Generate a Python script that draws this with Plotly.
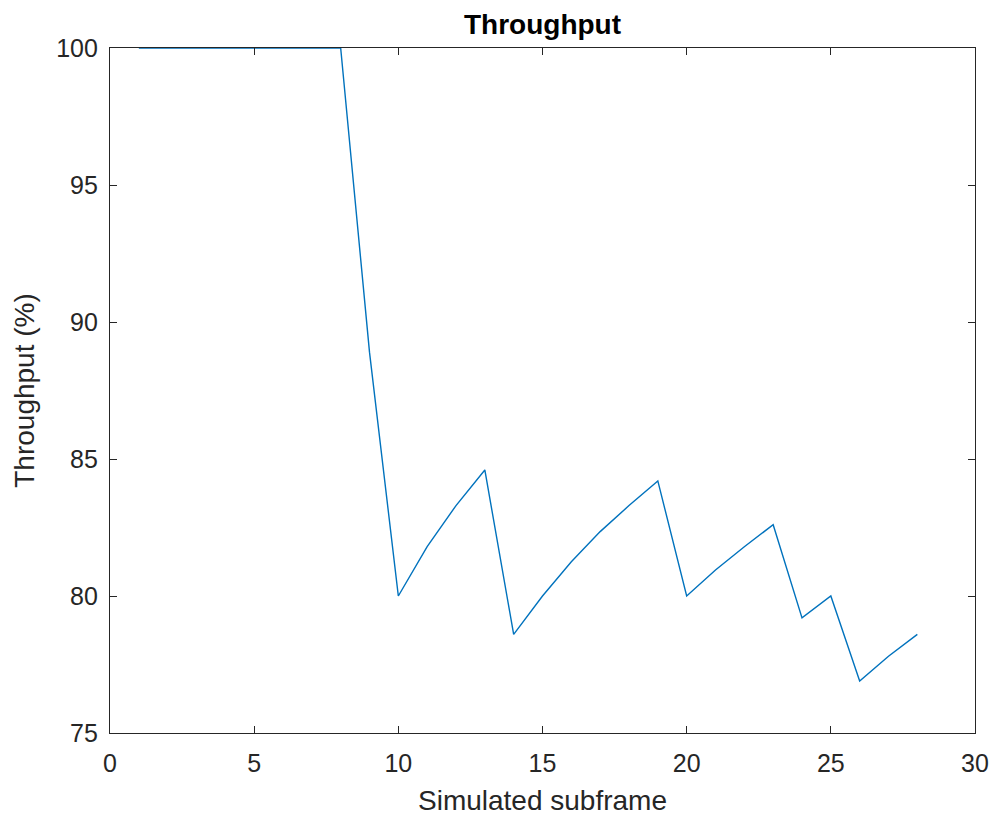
import plotly.graph_objects as go

subframes = list(range(1, 29))
throughput = [100, 100, 100, 100, 100, 100, 100, 100,
              88.9, 80.0, 81.8, 83.3, 84.6, 78.6, 80.0, 81.25,
              82.35, 83.3, 84.2, 80.0, 80.95, 81.8, 82.6, 79.2,
              80.0, 76.9, 77.8, 78.6]

x_ticks = [0, 5, 10, 15, 20, 25, 30]
y_ticks = [75, 80, 85, 90, 95, 100]

axis_color = "#262626"
font_family = "Liberation Sans, Arial, Helvetica, sans-serif"

W, H = 995, 821

fig = go.Figure()
fig.add_trace(go.Scatter(x=subframes, y=throughput, mode="lines",
                         line=dict(color="#0072BD", width=1.4),
                         showlegend=False, hoverinfo="x+y"))

common_axis = dict(showgrid=False, zeroline=False, showline=True, linecolor=axis_color,
                   linewidth=1.3, mirror="ticks", ticks="inside", ticklen=7,
                   tickwidth=1.3, tickcolor=axis_color, ticklabeloverflow="allow",
                   automargin=False,
                   tickfont=dict(family=font_family, size=25, color=axis_color))

fig.update_layout(
    width=W, height=H,
    paper_bgcolor="white", plot_bgcolor="white",
    margin=dict(l=110, r=20, t=48, b=88, pad=0),
    title=dict(text="<b>Throughput</b>", x=0.5, xanchor="center", xref="paper",
               y=1 - 24/H, yanchor="middle", yref="container",
               font=dict(family=font_family, size=28, color="black")),
    xaxis=dict(range=[0, 30], tickvals=x_ticks, ticktext=[str(v) for v in x_ticks],
               ticklabelstandoff=8,
               title=dict(text="Simulated subframe", standoff=14,
                          font=dict(family=font_family, size=28, color=axis_color)),
               **common_axis),
    yaxis=dict(range=[75, 100], tickvals=y_ticks, ticktext=[str(v) for v in y_ticks],
               ticklabelstandoff=6,
               title=dict(text="Throughput (%)", standoff=13,
                          font=dict(family=font_family, size=28, color=axis_color)),
               **common_axis),
)

fig.write_html("out.html",
               config={"displayModeBar": False},
               post_script="document.body.style.margin='0';document.body.style.overflow='hidden';")
